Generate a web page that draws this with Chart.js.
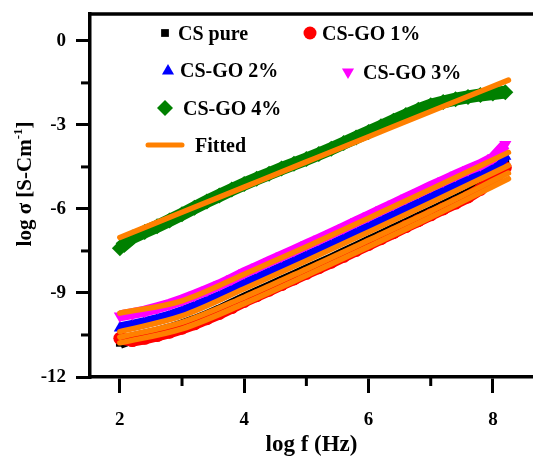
<!DOCTYPE html>
<html>
<head>
<meta charset="utf-8">
<script src="https://cdn.jsdelivr.net/npm/chart.js@4.4.1/dist/chart.umd.min.js"></script>
<style>
  html, body { margin: 0; padding: 0; background: #fff; overflow: hidden; }
  canvas { display: block; }
</style>
</head>
<body>
<canvas id="sigmaChart" width="533" height="459"></canvas>
<script>
// measured conductivity, log sigma vs log f
const logF = [2.0, 2.2, 2.4, 2.6, 2.8, 3.0, 3.2, 3.4, 3.6, 3.8, 4.0, 4.2, 4.4, 4.6, 4.8, 5.0,
              5.2, 5.4, 5.6, 5.8, 6.0, 6.2, 6.4, 6.6, 6.8, 7.0, 7.2, 7.4, 7.6, 7.8, 8.0, 8.2];

const csPure = [-10.78, -10.62, -10.52, -10.42, -10.30, -10.16, -10.00, -9.82, -9.63, -9.42, -9.20, -9.00, -8.80, -8.60, -8.40, -8.20,
                -8.00, -7.80, -7.59, -7.38, -7.17, -6.96, -6.75, -6.54, -6.33, -6.12, -5.91, -5.70, -5.48, -5.22, -4.85, -4.30];
const csGo1 = [-10.62, -10.70, -10.62, -10.52, -10.40, -10.26, -10.10, -9.92, -9.73, -9.52, -9.30, -9.10, -8.90, -8.70, -8.50, -8.30,
               -8.10, -7.90, -7.69, -7.48, -7.27, -7.06, -6.85, -6.63, -6.42, -6.21, -6.00, -5.79, -5.57, -5.30, -4.98, -4.52];
const csGo2 = [-10.25, -10.16, -10.06, -9.95, -9.82, -9.67, -9.50, -9.32, -9.13, -8.92, -8.70, -8.50, -8.30, -8.10, -7.90, -7.70,
               -7.50, -7.30, -7.09, -6.88, -6.67, -6.46, -6.25, -6.04, -5.83, -5.62, -5.41, -5.20, -4.99, -4.78, -4.52, -4.12];
const csGo3 = [-9.82, -9.74, -9.65, -9.53, -9.40, -9.25, -9.08, -8.90, -8.71, -8.50, -8.28, -8.08, -7.88, -7.68, -7.48, -7.28,
               -7.08, -6.88, -6.67, -6.46, -6.25, -6.04, -5.83, -5.62, -5.41, -5.20, -5.00, -4.80, -4.60, -4.42, -4.18, -3.70];
const csGo4 = [-7.40, -7.02, -6.82, -6.62, -6.41, -6.19, -5.96, -5.73, -5.52, -5.31, -5.11, -4.92, -4.74, -4.56, -4.39, -4.22,
               -4.04, -3.85, -3.65, -3.45, -3.25, -3.05, -2.85, -2.65, -2.46, -2.30, -2.18, -2.08, -2.00, -1.93, -1.88, -1.83];

// fitted curves
const fitX = [2.0, 3.0, 4.0, 5.0, 6.0, 7.0, 8.25];
const fitPure = [-10.58, -10.05, -9.15, -8.15, -7.12, -6.08, -4.72];
const fitGo1 = [-10.78, -10.28, -9.38, -8.38, -7.35, -6.30, -4.92];
const fitGo2 = [-10.38, -9.82, -8.85, -7.85, -6.82, -5.78, -4.45];
const fitGo3 = [-9.72, -9.28, -8.33, -7.35, -6.33, -5.30, -3.98];
const fitGo4 = [-7.02, -6.12, -5.22, -4.32, -3.42, -2.52, -1.40];

// axis ticks
const xTicks = [2, 4, 6, 8];
const xMinor = [3, 5, 7];
const yTicks = [-12, -9, -6, -3, 0];
const yMinor = [-10.5, -7.5, -4.5, -1.5];

const ORANGE = '#ff8000';
const FONT = 'Liberation Serif';

function pts(xs, ys) {
  return xs.map((x, i) => ({ x: x, y: ys[i] }));
}

function series(label, ys, color, style, radius, rotation, width, order) {
  return {
    label: label,
    data: pts(logF, ys),
    showLine: true,
    borderColor: color,
    backgroundColor: color,
    borderWidth: width,
    pointStyle: style,
    pointRadius: radius,
    pointRotation: rotation,
    pointBorderWidth: 0,
    order: order
  };
}

function fitted(ys) {
  return {
    label: 'Fitted',
    data: pts(fitX, ys),
    showLine: true,
    borderColor: ORANGE,
    borderWidth: 5.5,
    borderCapStyle: 'round',
    cubicInterpolationMode: 'monotone',
    pointRadius: 0,
    order: 1
  };
}

const datasets = [
  series('CS pure', csPure, '#000000', 'rect', 5.5, 0, 12, 6),
  series('CS-GO 1%', csGo1, '#ff0000', 'circle', 6.5, 0, 12, 5),
  series('CS-GO 2%', csGo2, '#0000ff', 'triangle', 7, 0, 11, 4),
  series('CS-GO 3%', csGo3, '#ff00ff', 'triangle', 7, 180, 11, 3),
  series('CS-GO 4%', csGo4, '#008000', 'rectRot', 8, 0, 13, 2),
  fitted(fitPure), fitted(fitGo1), fitted(fitGo2), fitted(fitGo3), fitted(fitGo4)
];

// legend entries drawn inside the plot
const legendItems = [
  { ds: 0, mx: 165, my: 33, tx: 178, ty: 40 },
  { ds: 1, mx: 310, my: 33, tx: 322, ty: 40 },
  { ds: 2, mx: 168, my: 71, tx: 180, ty: 77 },
  { ds: 3, mx: 348, my: 72, tx: 363, ty: 79 },
  { ds: 4, mx: 165, my: 108, tx: 183, ty: 115 },
  { ds: 5, mx: 165, my: 145, tx: 195, ty: 152 }
];

const extras = {
  id: 'extras',
  afterDraw(chart) {
    const ctx = chart.ctx;
    const area = chart.chartArea;
    const xs = chart.scales.x, ys = chart.scales.y;
    ctx.save();
    ctx.strokeStyle = '#000';
    ctx.lineWidth = 3.5;

    // top frame line
    ctx.beginPath();
    ctx.moveTo(area.left - 1.5, area.top);
    ctx.lineTo(area.right, area.top);
    ctx.stroke();

    // minor ticks
    ctx.lineWidth = 3;
    xMinor.forEach(v => {
      const px = xs.getPixelForValue(v);
      ctx.beginPath();
      ctx.moveTo(px, area.bottom);
      ctx.lineTo(px, area.bottom + 9);
      ctx.stroke();
    });
    yMinor.forEach(v => {
      const py = ys.getPixelForValue(v);
      ctx.beginPath();
      ctx.moveTo(area.left, py);
      ctx.lineTo(area.left - 9, py);
      ctx.stroke();
    });

    // legend
    ctx.fillStyle = '#000';
    ctx.font = 'bold 20px "' + FONT + '"';
    ctx.textBaseline = 'alphabetic';
    ctx.textAlign = 'left';
    legendItems.forEach(it => {
      const ds = chart.data.datasets[it.ds];
      if (ds.label === 'Fitted') {
        ctx.save();
        ctx.strokeStyle = ORANGE;
        ctx.lineWidth = 5;
        ctx.lineCap = 'round';
        ctx.beginPath();
        ctx.moveTo(148, it.my);
        ctx.lineTo(182, it.my);
        ctx.stroke();
        ctx.restore();
      } else {
        ctx.fillStyle = ds.backgroundColor;
        Chart.helpers.drawPoint(ctx, {
          pointStyle: ds.pointStyle,
          radius: ds.pointRadius,
          rotation: ds.pointRotation,
          borderWidth: 0
        }, it.mx, it.my);
        ctx.fillStyle = '#000';
      }
      ctx.fillText(ds.label, it.tx, it.ty);
    });

    // y axis title with superscript
    ctx.save();
    ctx.translate(31, 184);
    ctx.rotate(-Math.PI / 2);
    const big = 'bold 21px "' + FONT + '"';
    const small = 'bold 13px "' + FONT + '"';
    const parts = [
      { t: 'log \u03c3 [S-Cm', f: big, dy: 0 },
      { t: '-1', f: small, dy: -9 },
      { t: ']', f: big, dy: 0 }
    ];
    let total = 0;
    parts.forEach(p => { ctx.font = p.f; p.w = ctx.measureText(p.t).width; total += p.w; });
    let x0 = -total / 2;
    parts.forEach(p => {
      ctx.font = p.f;
      ctx.fillText(p.t, x0, p.dy);
      x0 += p.w;
    });
    ctx.restore();

    ctx.restore();
  }
};

const tickFont = { family: FONT, weight: 'bold', size: 19 };

new Chart(document.getElementById('sigmaChart'), {
  type: 'scatter',
  data: { datasets: datasets },
  options: {
    responsive: false,
    animation: false,
    devicePixelRatio: 1,
    layout: { autoPadding: false, padding: { top: 14, right: 0, bottom: 0, left: 0 } },
    plugins: {
      legend: { display: false },
      tooltip: { enabled: false }
    },
    scales: {
      x: {
        type: 'linear',
        min: 1.52,
        max: 8.645,
        afterFit: s => { s.height = 82; s.paddingLeft = 0; s.paddingRight = 0; },
        afterBuildTicks: s => { s.ticks = xTicks.map(v => ({ value: v })); },
        grid: { drawOnChartArea: false, tickLength: 16, lineWidth: 3, color: '#000' },
        border: { display: true, width: 3.5, color: '#000' },
        ticks: { font: tickFont, color: '#000', padding: 16, maxRotation: 0 },
        title: {
          display: true,
          text: 'log f (Hz)',
          font: { family: FONT, weight: 'bold', size: 23 },
          color: '#000',
          padding: { top: 0, bottom: 0 }
        }
      },
      y: {
        type: 'linear',
        min: -12,
        max: 0.96,
        afterFit: s => { s.width = 90; s.paddingTop = 0; s.paddingBottom = 0; },
        afterBuildTicks: s => { s.ticks = yTicks.map(v => ({ value: v })); },
        grid: { drawOnChartArea: false, tickLength: 14, lineWidth: 3, color: '#000' },
        border: { display: true, width: 3.5, color: '#000' },
        ticks: { font: tickFont, color: '#000', padding: 10 }
      }
    }
  },
  plugins: [extras]
});
</script>
</body>
</html>
